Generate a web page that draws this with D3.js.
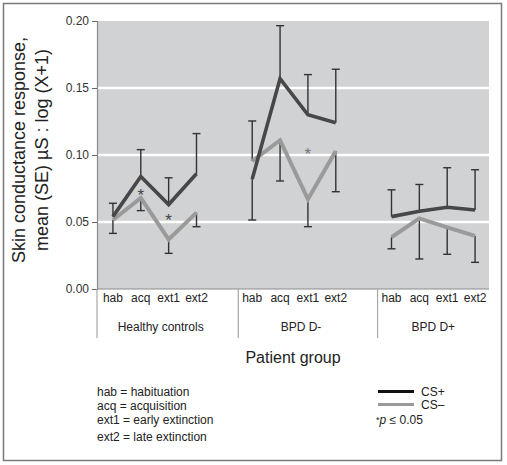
<!DOCTYPE html>
<html><head><meta charset="utf-8">
<script src="https://cdn.jsdelivr.net/npm/d3@7"></script>
<style>body{margin:0;background:#fff}</style>
</head><body><svg id="c" width="507" height="465"></svg>
<script>
// ---- data ----
const groups = ["Healthy controls", "BPD D-", "BPD D+"];
const phases = ["hab", "acq", "ext1", "ext2"];
const seriesNames = ["CS+", "CS\u2013"];
// CS+ means, per group (hab, acq, ext1, ext2)
const csPlus = [0.054, 0.084, 0.063, 0.086,  0.082, 0.157, 0.130, 0.124,  0.054, 0.058, 0.061, 0.059];
// end value of each CS+ error bar (mean ± SE as drawn)
const csPlusErrEnd = [0.064, 0.104, 0.083, 0.116,  0.0515, 0.1965, 0.160, 0.164,  0.074, 0.078, 0.0905, 0.089];
// CS- means
const csMinus = [0.0515, 0.068, 0.037, 0.057,  0.0955, 0.111, 0.067, 0.103,  0.0386, 0.0527, 0.046, 0.0396];
const csMinusErrEnd = [0.0415, 0.0585, 0.0266, 0.0465,  0.1254, 0.0806, 0.0465, 0.0726,  0.030, 0.0224, 0.0259, 0.0199];
// significance markers: [group, phase, value where the asterisk sits]
const sigGroup = ["Healthy controls", "Healthy controls", "BPD D-"];
const sigPhase = ["acq", "ext1", "ext1"];
const sigValue = [0.0725, 0.0535, 0.103];
const yTicks = [0.00, 0.05, 0.10, 0.15, 0.20];
const yTitle = ["Skin conductance response,", "mean (SE) \u00b5S : log (X+1)"];
const xTitle = "Patient group";
const legendDefs = ["hab = habituation", "acq = acquisition", "ext1 = early extinction", "ext2 = late extinction"];

// ---- drawing ----
const svg = d3.select("#c");
const FONT = "'Liberation Sans', Arial, Helvetica, sans-serif";
svg.style("font-family", FONT);
const L = 97, R = 489, T = 21, B = 289;

svg.append("rect").attr("x", 3.5).attr("y", 3.5).attr("width", 498).attr("height", 457)
  .attr("fill", "#fff").attr("stroke", "#7a7a7a").attr("stroke-width", 1.5);

const keys = [];
groups.forEach((g, gi) => {
  if (gi > 0) keys.push("gap" + gi);
  phases.forEach(p => keys.push(g + "|" + p));
});
const x = d3.scaleBand().domain(keys).range([L + 2, R]).padding(0);
const bw = x.bandwidth();
const cx = k => x(k) + bw / 2;
const y = d3.scaleLinear().domain([0, 0.2]).range([B, T]);

// plot background
svg.append("rect").attr("x", L).attr("y", y(0.2)).attr("width", R - L).attr("height", y(0) - y(0.2))
  .attr("fill", "#d1d2d4");
// grid
svg.append("g").selectAll("line").data(yTicks.filter(v => v > 0 && v < 0.2)).join("line")
  .attr("x1", L).attr("x2", R).attr("y1", d => y(d)).attr("y2", d => y(d))
  .attr("stroke", "#fff").attr("stroke-width", 2.5);

// y axis
const ya = svg.append("g").attr("transform", `translate(${L},0)`)
  .call(d3.axisLeft(y).tickValues(yTicks).tickFormat(d3.format(".2f")).tickSize(5).tickPadding(3));
ya.select(".domain").attr("stroke", "#8a8a8a").attr("stroke-width", 1.2);
ya.selectAll(".tick line").attr("stroke", "#666");
ya.selectAll(".tick text").attr("fill", "#333").style("font-size", "12px").style("font-family", FONT);

// bottom axis line
svg.append("line").attr("x1", L).attr("x2", R).attr("y1", B).attr("y2", B)
  .attr("stroke", "#8a8a8a").attr("stroke-width", 1.2);

// group separators
const seps = [L].concat(groups.slice(1).map(g => x(g + "|" + phases[0])));
svg.append("g").selectAll("line").data(seps).join("line")
  .attr("x1", d => d).attr("x2", d => d).attr("y1", B).attr("y2", 338)
  .attr("stroke", "#a8a8a8").attr("stroke-width", 1.2);

// category labels
const pts = [];
groups.forEach((g, gi) => phases.forEach((p, pi) => pts.push({ g, p, k: g + "|" + p, i: gi * 4 + pi })));
svg.append("g").selectAll("text").data(pts).join("text")
  .attr("x", d => cx(d.k)).attr("y", 302).attr("text-anchor", "middle")
  .attr("fill", "#222").style("font-size", "12px").text(d => d.p);

// group labels
svg.append("g").selectAll("text").data(groups).join("text")
  .attr("x", (g, gi) => {
    const s = gi === 0 ? L : x(g + "|" + phases[0]);
    const e = gi < groups.length - 1 ? x("gap" + (gi + 1)) + bw / 2 : R;
    return (s + e) / 2;
  })
  .attr("y", 331).attr("text-anchor", "middle").attr("fill", "#222").style("font-size", "12px")
  .text(d => d);

// error bars
function errBars(vals, ends) {
  const gE = svg.append("g").attr("stroke", "#333").attr("stroke-width", 1.4).attr("fill", "none");
  pts.forEach(d => {
    const xx = cx(d.k);
    gE.append("line").attr("x1", xx).attr("x2", xx).attr("y1", y(vals[d.i])).attr("y2", y(ends[d.i]));
    gE.append("line").attr("x1", xx - 4).attr("x2", xx + 4).attr("y1", y(ends[d.i])).attr("y2", y(ends[d.i]));
  });
}
errBars(csMinus, csMinusErrEnd);
errBars(csPlus, csPlusErrEnd);

// lines
const lineGen = d3.line().x(d => cx(d.k)).y(d => y(d.v));
function drawSeries(vals, color, w) {
  groups.forEach(g => {
    const data = pts.filter(d => d.g === g).map(d => ({ k: d.k, v: vals[d.i] }));
    svg.append("path").datum(data).attr("d", lineGen).attr("fill", "none")
      .attr("stroke", color).attr("stroke-width", w).attr("stroke-linejoin", "miter");
  });
}
drawSeries(csMinus, "#9a9a9a", 4);
drawSeries(csPlus, "#474747", 3.6);

// asterisks
svg.append("g").selectAll("text").data(sigValue).join("text")
  .attr("x", (v, i) => cx(sigGroup[i] + "|" + sigPhase[i]))
  .attr("y", v => y(v) + 9).attr("text-anchor", "middle")
  .attr("fill", (v, i) => i === 2 ? "#777" : "#444").style("font-size", "17px").text("*");

// y title
const yt = svg.append("g").attr("transform", "translate(0,150)");
yTitle.forEach((t, i) => {
  yt.append("text").attr("transform", `translate(${25 + i * 23},0) rotate(-90)`)
    .attr("text-anchor", "middle").attr("fill", "#222").style("font-size", "18px").text(t);
});

// x title
svg.append("text").attr("x", (L + R) / 2).attr("y", 363).attr("text-anchor", "middle")
  .attr("fill", "#222").style("font-size", "16px").text(xTitle);

// left legend (definitions)
const defY = [396, 410, 424, 441];
svg.append("g").selectAll("text").data(legendDefs).join("text")
  .attr("x", 97).attr("y", (d, i) => defY[i]).attr("fill", "#222").style("font-size", "12px").text(d => d);

// series legend
const legColors = ["#111", "#9a9a9a"];
const legY = [391.5, 404.5];
seriesNames.forEach((n, i) => {
  svg.append("line").attr("x1", 378).attr("x2", 414).attr("y1", legY[i]).attr("y2", legY[i])
    .attr("stroke", legColors[i]).attr("stroke-width", 3);
  svg.append("text").attr("x", 421).attr("y", legY[i] + 4.5).attr("fill", "#222")
    .style("font-size", "12px").text(n);
});
const pt = svg.append("text").attr("x", 376).attr("y", 424).attr("fill", "#222").style("font-size", "12px");
pt.append("tspan").text("*").style("font-size", "9px").attr("dy", "-1");
pt.append("tspan").text("p").style("font-style", "italic").attr("dy", "1");
pt.append("tspan").text(" \u2264 0.05");
</script></body></html>
